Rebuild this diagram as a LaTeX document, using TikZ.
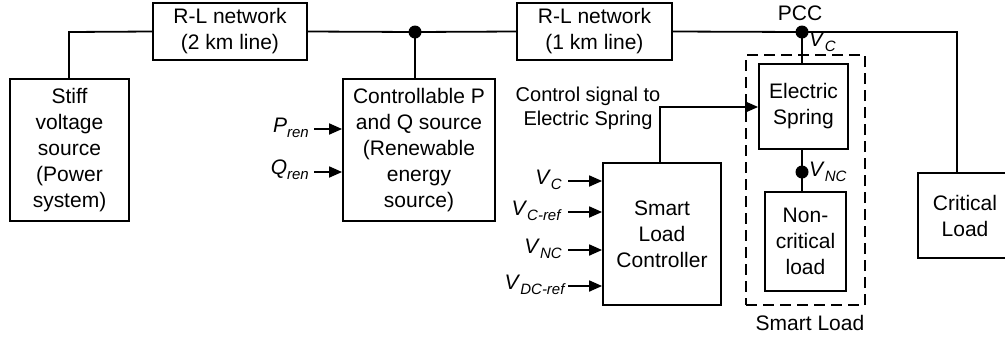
\documentclass[tikz,border=0pt]{standalone}
\usepackage{fontspec}
\setmainfont{Liberation Sans}
\usetikzlibrary{arrows.meta}
\newcommand{\vsub}[2]{\textit{#1}\raisebox{-0.45ex}{\fontsize{15}{15}\selectfont\textit{#2}}}
\begin{document}
\begin{tikzpicture}[x=1pt,y=-1pt,
  every node/.style={font=\fontsize{21}{26}\selectfont, inner sep=0pt},
  blk/.style={draw, line width=1.8pt, align=center},
  wire/.style={line width=1.8pt},
  arr/.style={line width=1.8pt, -{Triangle[length=13pt,width=11pt]}},
  dot/.style={circle, fill=black, minimum size=13pt, inner sep=0pt},
  lbl/.style={anchor=east, font=\fontsize{21}{26}\selectfont}]
\useasboundingbox (0,0) rectangle (1005,341);
% boxes
\node[blk, minimum width=119pt, minimum height=142pt] (stiff) at (69.5,150) {Stiff\\voltage\\source\\(Power\\system)};
\node[blk, minimum width=154pt, minimum height=57pt] (rl1) at (230,31.5) {R-L network\\(2 km line)};
\node[blk, minimum width=152pt, minimum height=142pt] (ctrl) at (419,150) {Controllable P\\and Q source\\(Renewable\\energy\\source)};
\node[blk, minimum width=155pt, minimum height=57pt] (rl2) at (594.5,31.5) {R-L network\\(1 km line)};
\node[blk, minimum width=94pt, minimum height=85pt] (crit) at (965,215.5) {Critical\\Load};
\node[blk, minimum width=89pt, minimum height=85pt] (es) at (803.5,106.5) {Electric\\Spring};
\node[blk, minimum width=81pt, minimum height=99pt] (ncl) at (805.5,241.5) {Non-\\critical\\load};
\node[blk, minimum width=118pt, minimum height=142pt] (slc) at (662,234) {Smart\\Load\\Controller};
\node[draw, dashed, dash pattern=on 11pt off 6pt, line width=1.8pt, minimum width=119pt, minimum height=250pt] (sl) at (805.5,180) {};
\node (sllbl) at (810,323) {Smart Load};
% junctions
\node[dot] (j1) at (415,32) {};
\node[dot] (pcc) at (802,32) {};
\node (pcclbl) at (800,13) {PCC};
\node[dot] (jnc) at (802,172) {};
\coordinate (corner1) at (69,32);
\coordinate (corner2) at (957,32);
% wires
\draw[wire] (stiff.north -| corner1) -- (corner1) -- (rl1.west);
\draw[wire] (rl1.east) -- (j1.center) -- (rl2.west);
\draw[wire] (j1.center) -- (j1 |- ctrl.north);
\draw[wire] (rl2.east) -- (pcc.center) -- (corner2) -- (corner2 |- crit.north);
\draw[wire] (pcc.center) -- (pcc |- es.north);
\draw[wire] (es.south -| jnc) -- (jnc.center) -- (jnc |- ncl.north);
\node[anchor=west] (vc) at (809,42) {\vsub{V}{C}};
\node[anchor=west] (vnc) at (809,172) {\vsub{V}{NC}};
% renewable inputs
\node[lbl] (pren) at (309,128) {\vsub{P}{ren}};
\node[lbl] (qren) at (309,170) {\vsub{Q}{ren}};
\draw[arr] (pren.east) ++(5,1) coordinate (pa) -- (pa -| ctrl.west);
\draw[arr] (qren.east) ++(5,2) coordinate (qa) -- (qa -| ctrl.west);
% controller inputs
\node[lbl] (i1) at (562,180) {\vsub{V}{C}};
\node[lbl] (i2) at (562,211) {\vsub{V}{C-ref}};
\node[lbl] (i3) at (562,249) {\vsub{V}{NC}};
\node[lbl] (i4) at (566,285) {\vsub{V}{DC-ref}};
\coordinate (a1) at (568,181);
\coordinate (a2) at (568,212);
\coordinate (a3) at (568,250);
\coordinate (a4) at (568,286);
\draw[arr] (a1) -- (a1 -| slc.west);
\draw[arr] (a2) -- (a2 -| slc.west);
\draw[arr] (a3) -- (a3 -| slc.west);
\draw[arr] (a4) -- (a4 -| slc.west);
% control signal
\coordinate (cs) at (660,107);
\draw[arr] (cs |- slc.north) -- (cs) -- (cs -| es.west);
\node[align=center, font=\fontsize{20}{24}\selectfont] (cslbl) at (588,108) {Control signal to\\Electric Spring};
\end{tikzpicture}
\end{document}
